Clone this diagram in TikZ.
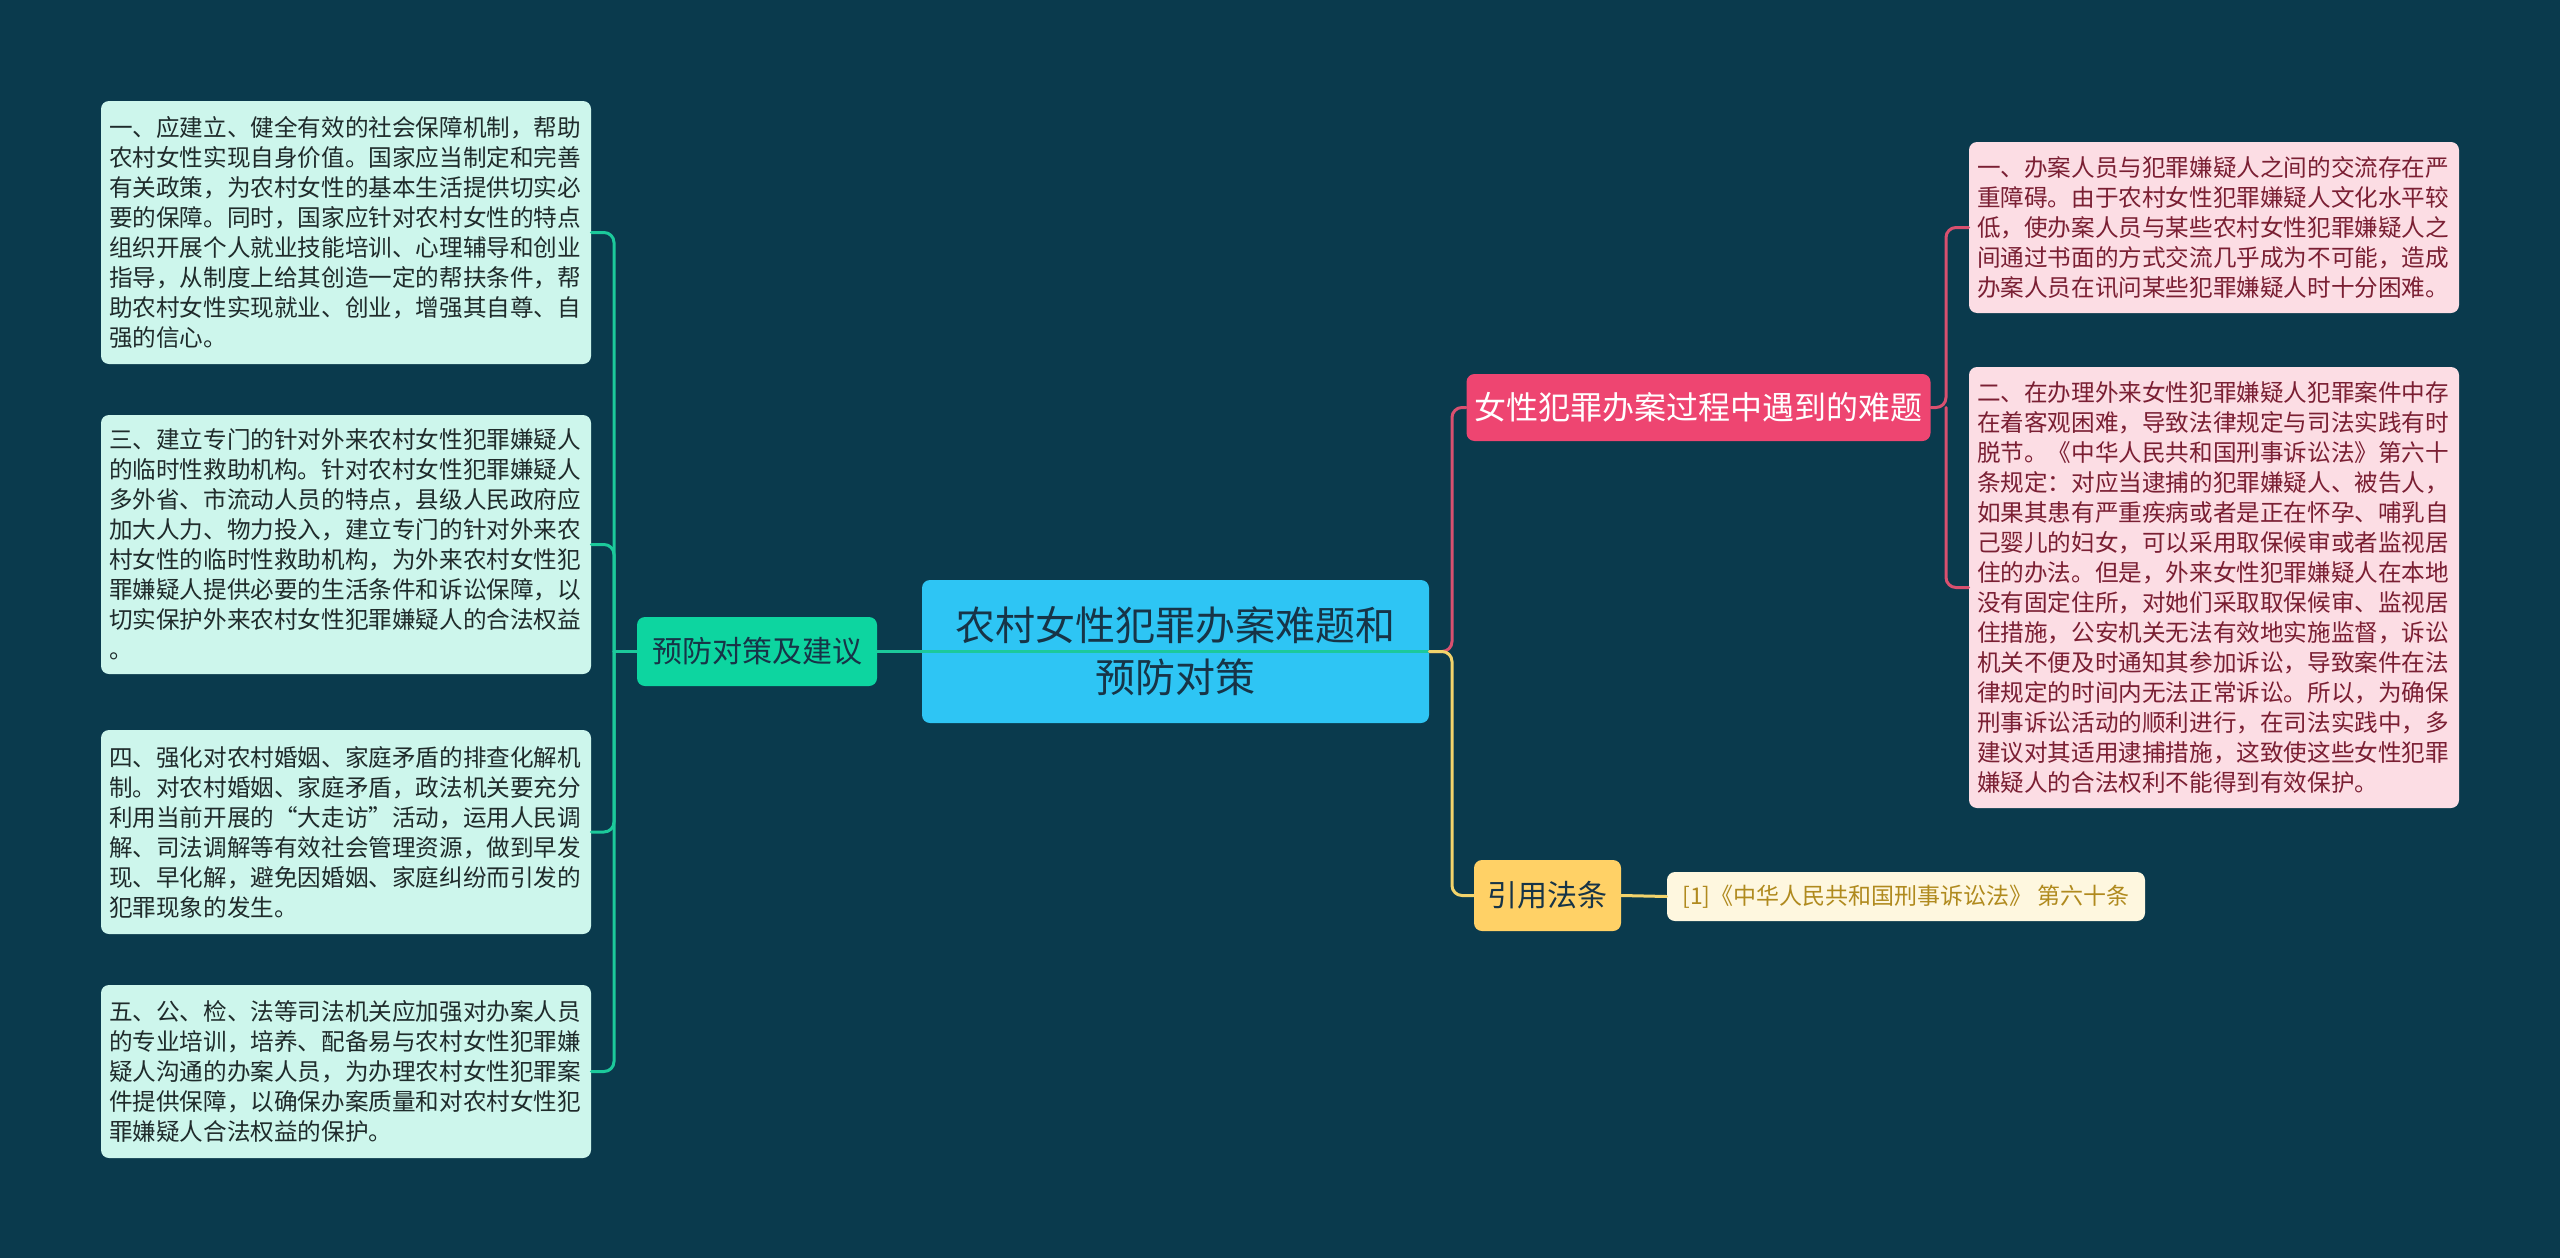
\documentclass[tikz,border=0pt]{standalone}
\usepackage{fontspec}
\setmainfont{Noto Sans CJK SC}

\definecolor{bgcol}{HTML}{0A3A4D}
\definecolor{rootfill}{HTML}{2EC5F4}
\definecolor{roottext}{HTML}{173447}
\definecolor{sugfill}{HTML}{0DD5A0}
\definecolor{sugleaf}{HTML}{CDF6EC}
\definecolor{sugtext}{HTML}{1F2B2B}
\definecolor{sugline}{HTML}{1CC99B}
\definecolor{probfill}{HTML}{EE4571}
\definecolor{probleaf}{HTML}{FCDDE4}
\definecolor{probtext}{HTML}{7A1F33}
\definecolor{probline}{HTML}{D9506F}
\definecolor{lawfill}{HTML}{FFD166}
\definecolor{lawleaf}{HTML}{FEF7DF}
\definecolor{lawtext}{HTML}{B08A1E}
\definecolor{lawline}{HTML}{F2D36B}

\begin{document}
\begin{tikzpicture}[x=0.5pt, y=-0.5pt, line cap=round, line join=round,
  box/.style={rounded corners=4pt, inner xsep=4pt, inner ysep=0pt},
  leafL/.style={box, fill=sugleaf, text=sugtext, text width=237pt, align=left,
    font=\fontsize{11.8}{15}\selectfont},
  leafR/.style={box, fill=probleaf, text=probtext, text width=237pt, align=left,
    font=\fontsize{11.8}{15}\selectfont},
  gline/.style={draw=sugline, line width=1.5pt, rounded corners=5pt},
  rline/.style={draw=probline, line width=1.5pt, rounded corners=5pt},
  yline/.style={draw=lawline, line width=1.5pt, rounded corners=5pt}]

    % canvas (pixel units, y downwards)
    \fill[bgcol] (0,0) rectangle (2560,1258);

    % main topic
    \node[box, fill=rootfill, text=roottext, align=center, minimum width=253.5pt,
      minimum height=71.5pt, font=\fontsize{20}{26}\selectfont]
      (root) at (1175.5,651.5) {农村女性犯罪办案难题和\\预防对策};

    % left branch
    \node[box, fill=sugfill, text=roottext, minimum width=120pt, minimum height=34.5pt,
      font=\fontsize{15}{18}\selectfont] (prev) at (757,651.5) {预防对策及建议};

    \node[leafL, minimum height=131.5pt] (sug1) at (346,232.5) {%
      一、应建立、健全有效的社会保障机制，帮助\\
      农村女性实现自身价值。国家应当制定和完善\\
      有关政策，为农村女性的基本生活提供切实必\\
      要的保障。同时，国家应针对农村女性的特点\\
      组织开展个人就业技能培训、心理辅导和创业\\
      指导，从制度上给其创造一定的帮扶条件，帮\\
      助农村女性实现就业、创业，增强其自尊、自\\
      强的信心。};
    \node[leafL, minimum height=129.5pt] (sug2) at (346,544.5) {%
      三、建立专门的针对外来农村女性犯罪嫌疑人\\
      的临时性救助机构。针对农村女性犯罪嫌疑人\\
      多外省、市流动人员的特点，县级人民政府应\\
      加大人力、物力投入，建立专门的针对外来农\\
      村女性的临时性救助机构，为外来农村女性犯\\
      罪嫌疑人提供必要的生活条件和诉讼保障，以\\
      切实保护外来农村女性犯罪嫌疑人的合法权益\\
      。};
    \node[leafL, minimum height=102pt] (sug3) at (346,832) {%
      四、强化对农村婚姻、家庭矛盾的排查化解机\\
      制。对农村婚姻、家庭矛盾，政法机关要充分\\
      利用当前开展的“大走访”活动，运用人民调\\
      解、司法调解等有效社会管理资源，做到早发\\
      现、早化解，避免因婚姻、家庭纠纷而引发的\\
      犯罪现象的发生。};
    \node[leafL, minimum height=86.5pt] (sug4) at (346,1071.5) {%
      五、公、检、法等司法机关应加强对办案人员\\
      的专业培训，培养、配备易与农村女性犯罪嫌\\
      疑人沟通的办案人员，为办理农村女性犯罪案\\
      件提供保障，以确保办案质量和对农村女性犯\\
      罪嫌疑人合法权益的保护。};

    % right branch: problems
    \node[box, fill=probfill, text=white, minimum width=224.5pt, minimum height=33.5pt,
      font=\fontsize{16}{19}\selectfont] (prob) at (1698.5,407.5) {女性犯罪办案过程中遇到的难题};

    \node[leafR, minimum height=85.5pt] (diff1) at (2214,227.5) {%
      一、办案人员与犯罪嫌疑人之间的交流存在严\\
      重障碍。由于农村女性犯罪嫌疑人文化水平较\\
      低，使办案人员与某些农村女性犯罪嫌疑人之\\
      间通过书面的方式交流几乎成为不可能，造成\\
      办案人员在讯问某些犯罪嫌疑人时十分困难。};
    \node[leafR, minimum height=220.5pt] (diff2) at (2214,587.5) {%
      二、在办理外来女性犯罪嫌疑人犯罪案件中存\\
      在着客观困难，导致法律规定与司法实践有时\\
      脱节。《中华人民共和国刑事诉讼法》第六十\\
      条规定：对应当逮捕的犯罪嫌疑人、被告人，\\
      如果其患有严重疾病或者是正在怀孕、哺乳自\\
      己婴儿的妇女，可以采用取保候审或者监视居\\
      住的办法。但是，外来女性犯罪嫌疑人在本地\\
      没有固定住所，对她们采取取保候审、监视居\\
      住措施，公安机关无法有效地实施监督，诉讼\\
      机关不便及时通知其参加诉讼，导致案件在法\\
      律规定的时间内无法正常诉讼。所以，为确保\\
      刑事诉讼活动的顺利进行，在司法实践中，多\\
      建议对其适用逮捕措施，这致使这些女性犯罪\\
      嫌疑人的合法权利不能得到有效保护。};

    % right branch: cited law
    \node[box, fill=lawfill, text=roottext, minimum width=73.5pt, minimum height=35.5pt,
      font=\fontsize{15}{18}\selectfont] (law) at (1547.5,895.5) {引用法条};
    \node[box, fill=lawleaf, text=lawtext, minimum width=239pt, minimum height=24.5pt,
      font=\fontsize{11.5}{14}\selectfont] (ref) at (1906,896.5) {[1]《中华人民共和国刑事诉讼法》 第六十条};

    % junctions
    \coordinate (lj) at (614,651.5);
    \coordinate (rj) at (1452,651.5);
    \coordinate (pj) at (1946,407.5);

    % connectors
    \draw[gline] (prev.west) -- (lj);
    \foreach \n in {sug1,sug2,sug3,sug4}
      \draw[gline] (lj) |- (\n.east);
    \draw[gline] (prev.east) -- (root.east);

    \draw[rline] (root.east) -- (rj) |- (prob.west);
    \draw[rline] (prob.east) -- (pj) |- (diff1.west);
    \draw[rline] (pj) |- (diff2.west);

    \draw[yline] (root.east) -- (rj) |- (law.west);
    \draw[yline] (law.east) -- (ref.west);

\end{tikzpicture}
\end{document}
